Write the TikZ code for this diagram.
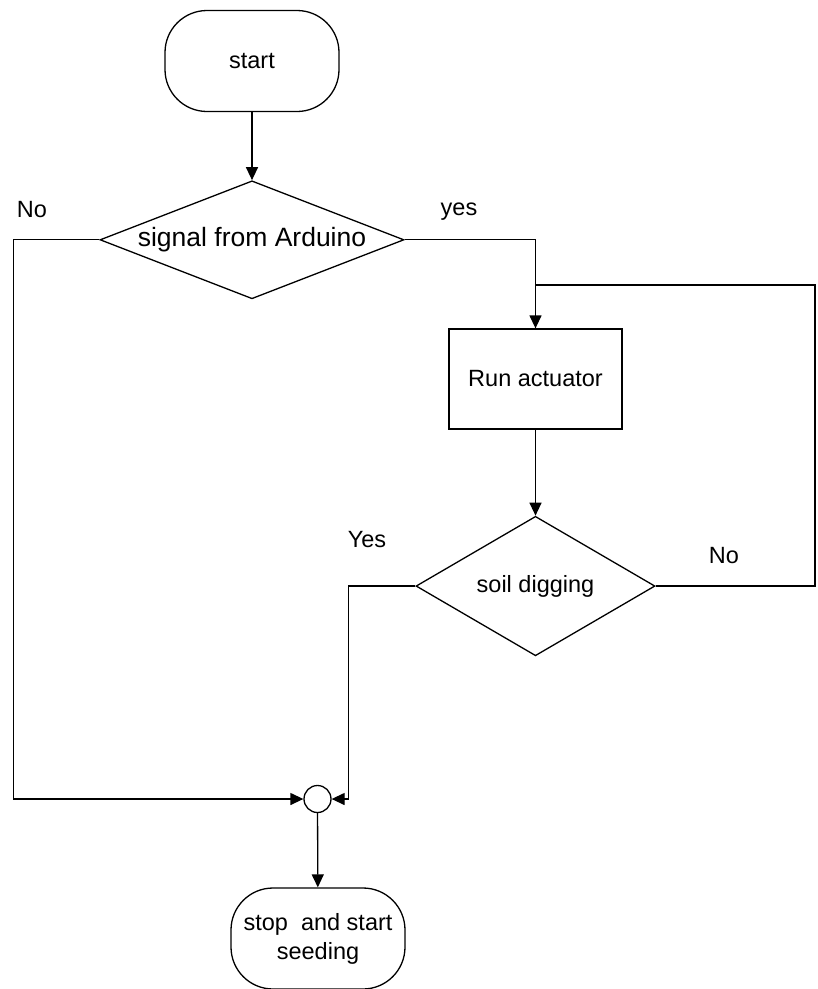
\documentclass[tikz,border=0pt]{standalone}
\usepackage{fontspec}
\setmainfont{Liberation Sans}
\usetikzlibrary{arrows.meta,positioning,shapes.geometric}
\tikzset{
  terminal/.style={
    rectangle,
    rounded corners=42pt,
    draw,
    line width=1.3pt,
    align=center,
    minimum width=174pt,
    minimum height=101pt,
    font=\fontsize{23.5}{29}\selectfont
  },
  flowbox/.style={
    rectangle,
    draw,
    line width=1.3pt,
    minimum width=173pt,
    minimum height=100pt,
    font=\fontsize{23.5}{29}\selectfont
  },
  decision/.style={
    diamond,
    draw,
    line width=1.3pt,
    inner sep=0pt,
    font=\fontsize{23.5}{29}\selectfont
  },
  junction/.style={circle,draw,line width=1.3pt,minimum size=27pt,inner sep=0pt},
  flowline/.style={-{Triangle[length=13pt,width=12pt]},line width=1.3pt},
  railline/.style={line width=1.3pt},
  branchlabel/.style={font=\fontsize{23.5}{29}\selectfont}
}
\begin{document}
\begin{tikzpicture}[x=1pt,y=-1pt]
  \useasboundingbox (0,0) rectangle (818,989);
  \node[terminal] (start) at (252,61) {start};
  \node[decision, minimum width=304pt, minimum height=118pt, below=68pt of start]
    (signal) {\fontsize{26.5}{30}\selectfont\makebox[0pt]{signal from Arduino}};
  \node[flowbox] (actuator) at (535.5,379) {Run actuator};
  \node[decision, minimum width=239pt, minimum height=137pt, below=86pt of actuator]
    (digging) {soil digging};
  \node[junction] (join) at (317.5,799) {};
  \node[terminal] (stop) at (318,938.5) {stop\ \ and start\\seeding};
  % branch labels
  \node[branchlabel] (lblno) at (32,210) {No};
  \node[branchlabel] (lblyes) at (459,212) {yes};
  \node[branchlabel] (lblyes2) at (367,540) {Yes};
  \node[branchlabel] (lblno2) at (724,556) {No};
  % rails
  \coordinate (leftrail) at ([xshift=-86pt]signal.west);
  \coordinate (rightrail) at (815,285);
  \draw[flowline] (start) -- (signal);
  \draw[flowline] (signal.east) -| (actuator.north);
  \draw[flowline] (actuator) -- (digging);
  \draw[flowline] (signal.west) -- (leftrail) |- (join.west);
  \draw[railline] (digging.east) -| (rightrail) -- (actuator.north |- rightrail);
  \draw[flowline] (digging.west) -- ++(-67,0) |- (join.east);
  \draw[flowline] (join) -- (stop);
\end{tikzpicture}
\end{document}
